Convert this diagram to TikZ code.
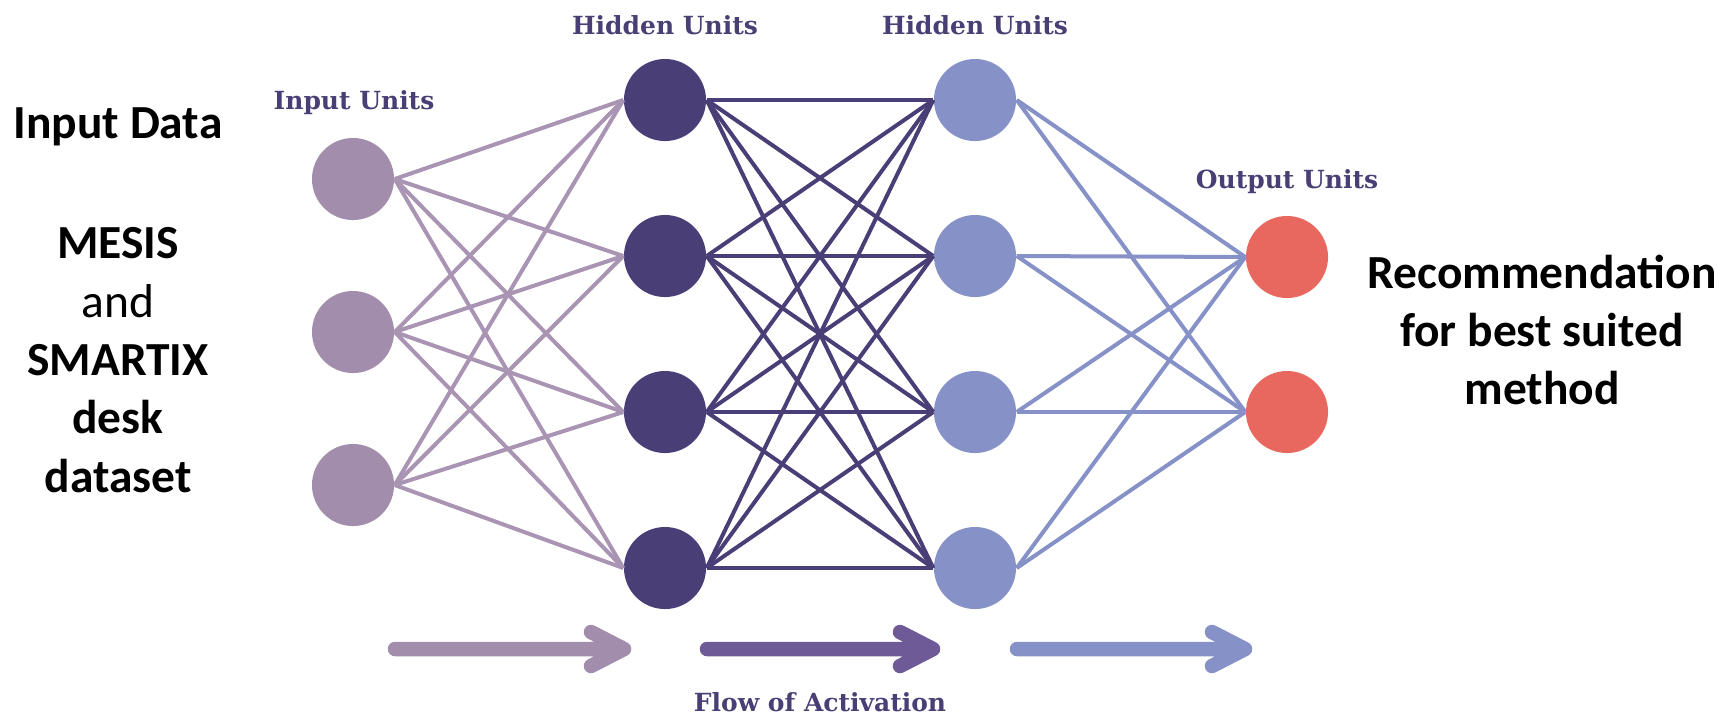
\documentclass[tikz,border=0pt]{standalone}
\usepackage{fontspec}
\setmainfont{Carlito}
\newfontfamily\unitfont{DejaVu Serif}

\definecolor{inunit}{HTML}{A28DAD}
\definecolor{inedge}{HTML}{A995B3}
\definecolor{hidA}{HTML}{493E76}
\definecolor{hidB}{HTML}{8691C7}
\definecolor{outunit}{HTML}{E8675F}
\definecolor{flowmid}{HTML}{6D5A96}
\definecolor{labelc}{HTML}{4A3F75}

\begin{document}
\begin{tikzpicture}[x=0.01cm, y=-0.01cm,
    unit/.style={circle, inner sep=0pt, minimum size=0.82cm},
    link/.style={line width=0.04cm},
    flowline/.style={line width=0.145cm, line cap=round, line join=round},
    layername/.style={text=labelc, font=\unitfont\bfseries\fontsize{7.1}{8}\selectfont},
    sidetext/.style={align=center, font=\fontsize{13.5}{16.6}\selectfont}]
  \useasboundingbox (0,0) rectangle (1730,714);

  % units
  \node[unit, fill=inunit, name=i1] at (353,179) {};
  \node[unit, fill=inunit, name=i2] at (353,332) {};
  \node[unit, fill=inunit, name=i3] at (353,485) {};

  \node[unit, fill=hidA, name=h1] at (665,100) {};
  \node[unit, fill=hidA, name=h2] at (665,256) {};
  \node[unit, fill=hidA, name=h3] at (665,412) {};
  \node[unit, fill=hidA, name=h4] at (665,568) {};

  \node[unit, fill=hidB, name=g1] at (975,100) {};
  \node[unit, fill=hidB, name=g2] at (975,256) {};
  \node[unit, fill=hidB, name=g3] at (975,412) {};
  \node[unit, fill=hidB, name=g4] at (975,568) {};

  \node[unit, fill=outunit, name=o1] at (1287,257) {};
  \node[unit, fill=outunit, name=o2] at (1287,412) {};

  % weights
  \foreach \a in {1,2,3}
    \foreach \b in {1,2,3,4}
      \draw[link, inedge] (i\a.east) -- (h\b.west);
  \foreach \a in {1,2,3,4}
    \foreach \b in {1,2,3,4}
      \draw[link, hidA] (h\a.east) -- (g\b.west);
  \foreach \a in {1,2,3,4}
    \foreach \b in {1,2}
      \draw[link, hidB] (g\a.east) -- (o\b.west);

  % layer names
  \node[layername, name=lin] at (354,103) {Input Units};
  \node[layername, name=lha] at (665,25) {Hidden Units};
  \node[layername, name=lhb] at (975,25) {Hidden Units};
  \node[layername, name=lout] at (1287,182) {Output Units};
  \node[layername, name=lflow] at (820,702) {Flow of Activation};

  % flow arrows
  \coordinate (f1s) at (395,649);
  \coordinate (f1e) at (624,649);
  \coordinate (f2s) at (707,649);
  \coordinate (f2e) at (933,649);
  \coordinate (f3s) at (1017,649);
  \coordinate (f3e) at (1245,649);
  \draw[flowline, inunit] (f1s) -- (f1e) (f1e) ++(-33,-17) -- (f1e) -- ++(-33,17);
  \draw[flowline, flowmid] (f2s) -- (f2e) (f2e) ++(-33,-17) -- (f2e) -- ++(-33,17);
  \draw[flowline, hidB] (f3s) -- (f3e) (f3e) ++(-33,-17) -- (f3e) -- ++(-33,17);

  % side texts
  \node[sidetext, font=\bfseries\fontsize{13.5}{16.6}\selectfont, name=indata] at (118,127) {Input Data};
  \node[sidetext, name=dataset] at (118,360) {\textbf{MESIS}\\and\\\textbf{SMARTIX}\\\textbf{desk}\\\textbf{dataset}};
  \node[sidetext, font=\bfseries\fontsize{13.5}{16.6}\selectfont, name=recom] at (1542,330) {Recommendation\\for best suited\\method};
\end{tikzpicture}
\end{document}
